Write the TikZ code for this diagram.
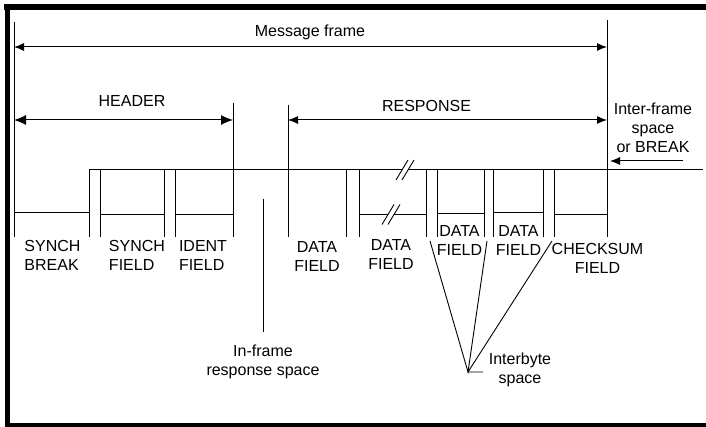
\documentclass[tikz,border=0pt]{standalone}
\usepackage{fontspec}
\setmainfont{Liberation Sans}
\usetikzlibrary{arrows.meta}
\begin{document}
\begin{tikzpicture}[x=1pt,y=-1pt,
  wire/.style={line width=1pt},
  dimline/.style={line width=1pt, {Latex[length=10pt,width=8pt]}-{Latex[length=10pt,width=8pt]}},
  bigdim/.style={line width=1pt, {Latex[length=12pt,width=10pt]}-{Latex[length=12pt,width=10pt]}},
  lbl/.style={font=\fontsize{16}{19}\selectfont, inner sep=0pt, align=center},
  lbll/.style={lbl, align=left},
]
\useasboundingbox (0,0) rectangle (706,427);

% heavy border (top, left, bottom)
\fill (4,4) rectangle (706,10);
\fill (4.5,4) rectangle (10,427);
\fill (4.5,422.5) rectangle (706,427);

% frame limits
\coordinate (ms) at (14,47);
\coordinate (me) at (607,47);
\coordinate (hs) at (14,120);
\coordinate (he) at (233,120);
\coordinate (rs) at (288,120);
\coordinate (re) at (607,120);

\draw[wire] (14,22) -- (14,237);
\draw[wire] (607,20) -- (607,237);
\draw[wire] (233,103) -- (233,237);
\draw[wire] (288,105) -- (288,237);

% dimension arrows
\draw[dimline] (ms) -- (me);
\node[lbl] (msg) at (310,32) {Message frame};
\draw[bigdim] (hs) -- (he);
\node[lbl] (hdr) at (132,101) {HEADER};
\draw[dimline] (rs) -- (re);
\node[lbl] (rsp) at (426.5,106) {RESPONSE};

% inter-frame space
\node[lbl] (ifs) at (653,128) {Inter-frame\\space\\or BREAK};
\coordinate (ia) at (683,161);
\coordinate (ib) at (610,161);
\draw[line width=1pt, -{Latex[length=10pt,width=8pt]}] (ia) -- (ib);

% bus level line
\draw[wire] (14,213) -- (89,213) -- (89,170) -- (703,170);

% byte field boundaries
\foreach \x in {89,100.7,164.3,175.7,346.7,359.3,426.7,437.3,484,493.3,543.3,554}
  \draw[wire] (\x,170) -- (\x,237);

% field low levels
\draw[wire] (100.7,215) -- (164.3,215);
\draw[wire] (175.7,215) -- (233,215);
\draw[wire] (359.3,214.5) -- (426.7,214.5);
\draw[wire] (437.3,213.3) -- (484,213.3);
\draw[wire] (493.3,212.7) -- (543.3,212.7);
\draw[wire] (554,214.3) -- (607,214.3);

% break marks
\foreach \cx/\cy in {405/170, 391/214.5} {
  \fill[white] (\cx-9,\cy+10) -- (\cx+3,\cy-10) -- (\cx+9,\cy-10) -- (\cx-3,\cy+10) -- cycle;
  \draw[line width=0.9pt] (\cx-9,\cy+10) -- (\cx+3,\cy-10);
  \draw[line width=0.9pt] (\cx-3,\cy+10) -- (\cx+9,\cy-10);
}

% in-frame response space
\coordinate (ifr) at (263,199);
\coordinate (ifrb) at (263,332);
\draw[wire] (ifr) -- (ifrb);
\node[lbl] (ifrl) at (263,362) {In-frame\\response space};

% field labels
\node[lbll] (sb) at (52.5,255) {SYNCH\\BREAK};
\node[lbll] (sf) at (137,255) {SYNCH\\FIELD};
\node[lbll] (idf) at (203,255) {IDENT\\FIELD};
\node[lbl] (df1) at (317,256) {DATA\\FIELD};
\node[lbl] (df2) at (391,254) {DATA\\FIELD};
\node[lbl] (df3) at (459.5,240) {DATA\\FIELD};
\node[lbl] (df4) at (518.5,240) {DATA\\FIELD};
\node[lbl] (cks) at (597.5,258.7) {CHECKSUM\\FIELD};

% interbyte space pointers
\coordinate (ib0) at (468,372);
\coordinate (ib1) at (430,241);
\coordinate (ib2) at (487,241);
\coordinate (ib3) at (552,241);
\coordinate (ib4) at (483,372);
\draw[line width=0.9pt] (ib1) -- (ib0) -- (ib2);
\draw[line width=0.9pt] (ib3) -- (ib0) -- (ib4);
\node[lbl] (ibl) at (520,369.5) {Interbyte\\space};
\end{tikzpicture}
\end{document}
